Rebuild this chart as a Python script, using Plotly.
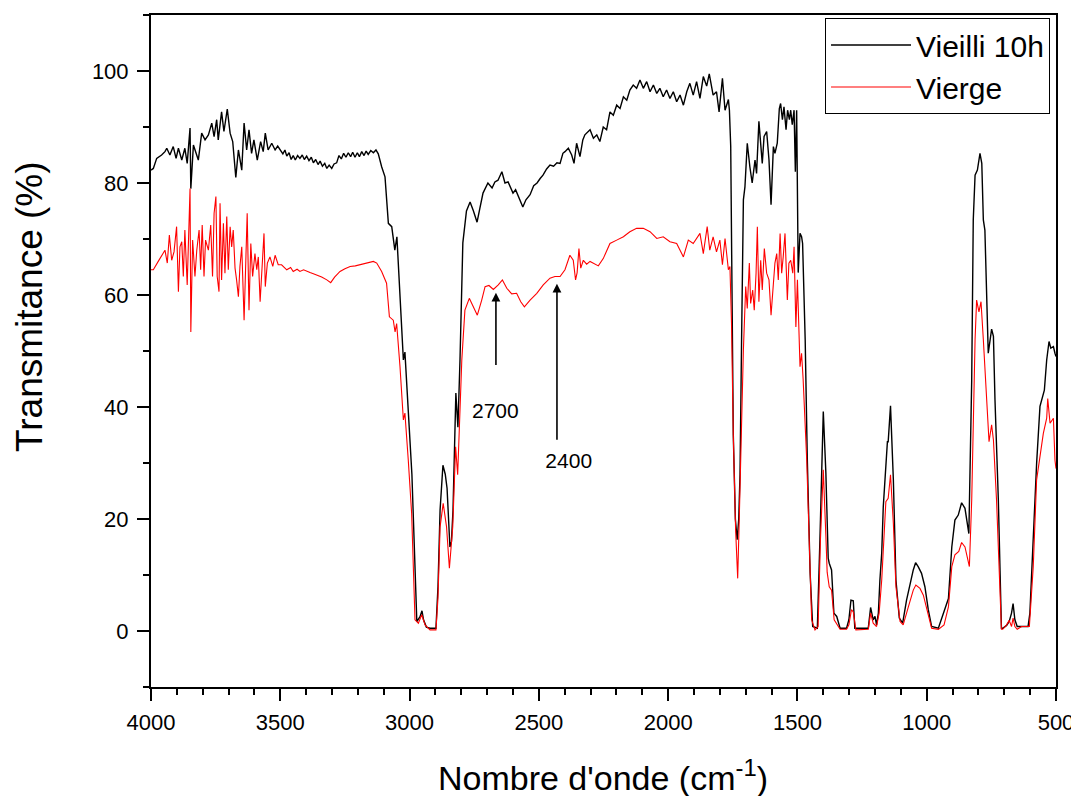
import plotly.graph_objects as go

# ---- Data: wavenumber (cm-1) and transmittance (%) ----
vieilli_w = [4000, 3991, 3978, 3959, 3946, 3939, 3927, 3914, 3903, 3894, 3881, 3869, 3860, 3849, 3846, 3836,
             3817, 3804, 3791, 3778, 3765, 3756, 3746, 3740, 3727, 3718, 3705, 3694, 3684, 3672, 3662, 3649,
             3640, 3630, 3621, 3611, 3602, 3589, 3576, 3566, 3558, 3547, 3533, 3520, 3510, 3501, 3490, 3482,
             3475, 3466, 3458, 3450, 3442, 3433, 3424, 3415, 3407, 3398, 3389, 3380, 3372, 3363, 3354, 3346,
             3337, 3328, 3320, 3311, 3301, 3292, 3282, 3273, 3264, 3255, 3246, 3237, 3228, 3220, 3211, 3202,
             3194, 3185, 3176, 3168, 3160, 3150, 3140, 3130, 3121, 3108, 3095, 3082, 3069, 3057, 3049, 3024,
             3018, 2991, 2972, 2960, 2952, 2946, 2935, 2921, 2898, 2890, 2882, 2871, 2862, 2855, 2844, 2838,
             2832, 2821, 2813, 2805, 2794, 2780, 2766, 2753, 2739, 2728, 2716, 2697, 2681, 2670, 2658, 2643,
             2631, 2619, 2609, 2600, 2590, 2581, 2570, 2562, 2550, 2534, 2520, 2507, 2495, 2484, 2470, 2457,
             2443, 2430, 2418, 2407, 2399, 2386, 2373, 2364, 2354, 2341, 2330, 2322, 2302, 2289, 2276, 2264,
             2251, 2238, 2225, 2212, 2199, 2186, 2173, 2160, 2148, 2135, 2122, 2109, 2096, 2083, 2070, 2057,
             2044, 2032, 2019, 2006, 1993, 1980, 1967, 1954, 1941, 1928, 1916, 1903, 1890, 1877, 1864, 1851,
             1841, 1826, 1813, 1803, 1790, 1780, 1767, 1763, 1758, 1754, 1748, 1740, 1733, 1727, 1722, 1716,
             1709, 1703, 1694, 1684, 1675, 1664, 1658, 1649, 1642, 1636, 1629, 1619, 1610, 1602, 1593, 1587,
             1578, 1570, 1565, 1558, 1552, 1544, 1538, 1531, 1526, 1520, 1513, 1508, 1503, 1497, 1490, 1484,
             1480, 1470, 1462, 1451, 1441, 1423, 1413, 1400, 1390, 1381, 1377, 1368, 1359, 1348, 1335, 1310,
             1301, 1293, 1284, 1278, 1226, 1217, 1207, 1200, 1194, 1187, 1181, 1174, 1168, 1158, 1152, 1149,
             1140, 1129, 1119, 1106, 1093, 1078, 1065, 1052, 1043, 1033, 1020, 1007, 994, 981, 955, 936,
             916, 903, 891, 878, 865, 852, 837, 826, 820, 813, 804, 794, 787, 781, 775, 762,
             749, 742, 736, 723, 711, 706, 691, 681, 672, 666, 659, 650, 608, 601, 588, 575,
             562, 555, 545, 536, 527, 520, 510, 504, 500]
vieilli_t = [82.3, 82.6, 84.4, 85.0, 85.6, 86.2, 85.0, 86.5, 84.4, 86.2, 84.1, 86.2, 83.5, 89.8, 79.0, 86.8,
             84.1, 88.9, 87.7, 88.6, 90.7, 88.3, 91.3, 87.7, 92.7, 89.2, 93.2, 88.9, 87.4, 81.0, 85.9, 82.3,
             90.7, 85.9, 89.5, 85.3, 87.7, 84.1, 87.4, 85.6, 88.9, 85.9, 87.1, 85.9, 86.6, 86.0, 85.2, 85.9,
             84.8, 85.4, 84.2, 84.9, 84.1, 84.9, 84.4, 85.0, 84.2, 84.8, 84.0, 84.6, 83.6, 84.2, 83.3, 83.9,
             83.0, 83.5, 82.6, 83.2, 82.6, 83.4, 83.6, 84.9, 84.3, 85.3, 84.6, 85.4, 84.7, 85.5, 84.6, 85.4,
             84.7, 85.6, 84.9, 85.7, 85.1, 85.8, 85.4, 85.9, 85.2, 82.9, 81.1, 72.8, 72.2, 68.0, 70.4, 48.4,
             49.8, 28.0, 1.7, 2.5, 3.6, 2.0, 0.7, 0.5, 0.5, 8.0, 21.6, 29.6, 28.0, 25.5, 15.0, 16.0,
             21.6, 42.5, 36.4, 48.4, 69.3, 75.0, 76.6, 75.0, 73.0, 75.5, 78.2, 80.0, 79.1, 80.2, 80.5, 82.0,
             80.0, 80.2, 79.0, 78.2, 78.8, 77.9, 76.5, 75.7, 77.0, 77.9, 79.5, 80.0, 80.8, 81.4, 82.5, 83.2,
             83.0, 83.6, 83.5, 85.3, 85.6, 86.2, 85.0, 83.5, 87.1, 84.7, 87.7, 88.6, 89.5, 88.0, 88.6, 87.4,
             90.0, 89.5, 92.7, 92.1, 93.9, 93.3, 95.4, 94.8, 96.6, 97.5, 96.9, 98.4, 96.9, 98.1, 96.3, 97.5,
             96.0, 96.9, 95.4, 96.6, 95.1, 96.3, 94.5, 95.7, 93.9, 96.3, 97.8, 95.7, 98.1, 95.1, 99.0, 97.3,
             99.5, 95.7, 96.3, 92.7, 98.7, 93.0, 94.9, 93.0, 86.5, 59.1, 35.0, 20.0, 16.3, 20.0, 28.0, 52.0,
             77.0, 79.3, 87.1, 82.9, 80.0, 84.1, 81.7, 91.0, 87.1, 83.5, 88.3, 89.2, 84.1, 76.1, 86.5, 85.3,
             87.1, 93.3, 94.2, 91.3, 93.6, 89.5, 93.0, 91.3, 93.0, 90.4, 93.0, 82.0, 93.0, 64.0, 71.0, 70.4,
             69.2, 52.0, 31.1, 10.4, 0.8, 0.5, 16.3, 39.2, 28.2, 13.0, 12.1, 10.9, 3.2, 2.6, 0.5, 0.5,
             2.0, 5.5, 5.4, 0.5, 0.5, 4.2, 2.0, 2.6, 1.1, 3.2, 9.1, 13.9, 22.2, 29.9, 33.8, 33.8,
             40.2, 27.0, 9.1, 2.3, 1.4, 5.5, 8.5, 10.9, 12.2, 11.5, 10.3, 7.9, 3.8, 0.8, 0.5, 3.2,
             5.8, 15.0, 19.8, 20.7, 22.9, 21.9, 17.4, 44.8, 73.4, 81.4, 82.3, 85.3, 83.5, 73.4, 71.6, 49.6,
             53.9, 52.6, 41.3, 23.4, 0.5, 0.5, 1.0, 1.7, 3.2, 4.9, 2.0, 0.8, 0.8, 3.2, 18.0, 29.9,
             40.1, 41.5, 43.0, 48.4, 51.7, 50.5, 50.8, 49.6, 49.0]

vierge_w = [4000, 3991, 3972, 3959, 3946, 3937, 3929, 3920, 3911, 3901, 3894, 3888, 3881, 3875, 3869, 3860,
            3849, 3846, 3839, 3830, 3823, 3814, 3808, 3802, 3795, 3789, 3778, 3769, 3762, 3756, 3749, 3744,
            3737, 3733, 3727, 3720, 3714, 3707, 3701, 3694, 3688, 3682, 3675, 3669, 3662, 3656, 3649, 3640,
            3633, 3628, 3621, 3614, 3607, 3598, 3591, 3585, 3578, 3570, 3563, 3558, 3550, 3540, 3529, 3520,
            3508, 3495, 3475, 3460, 3450, 3435, 3424, 3410, 3398, 3385, 3372, 3355, 3340, 3320, 3305, 3290,
            3269, 3250, 3230, 3210, 3192, 3170, 3153, 3140, 3127, 3108, 3089, 3078, 3063, 3056, 3050, 3037,
            3024, 3018, 3005, 2992, 2979, 2966, 2953, 2940, 2921, 2898, 2890, 2882, 2870, 2857, 2846, 2833,
            2822, 2814, 2798, 2786, 2769, 2753, 2738, 2721, 2708, 2693, 2676, 2657, 2641, 2624, 2605, 2586,
            2570, 2556, 2534, 2508, 2483, 2457, 2438, 2418, 2399, 2380, 2367, 2358, 2352, 2345, 2338, 2328,
            2315, 2302, 2270, 2251, 2225, 2199, 2173, 2148, 2122, 2096, 2070, 2044, 2019, 1993, 1967, 1941,
            1922, 1903, 1877, 1864, 1849, 1839, 1826, 1813, 1800, 1790, 1780, 1767, 1761, 1755, 1748, 1739,
            1731, 1725, 1716, 1709, 1700, 1694, 1686, 1681, 1673, 1667, 1660, 1655, 1649, 1642, 1636, 1628,
            1619, 1610, 1602, 1593, 1587, 1580, 1574, 1567, 1561, 1555, 1548, 1539, 1533, 1526, 1518, 1513,
            1506, 1500, 1494, 1490, 1484, 1478, 1464, 1445, 1432, 1420, 1411, 1400, 1390, 1385, 1377, 1368,
            1358, 1346, 1335, 1310, 1301, 1291, 1284, 1274, 1226, 1217, 1207, 1194, 1184, 1174, 1166, 1158,
            1149, 1140, 1129, 1119, 1103, 1091, 1071, 1052, 1042, 1026, 1013, 1000, 981, 955, 933, 916,
            903, 891, 876, 865, 852, 835, 826, 813, 807, 798, 790, 781, 768, 759, 749, 742,
            730, 711, 706, 691, 681, 672, 666, 659, 650, 633, 603, 588, 575, 562, 549, 536,
            532, 523, 510, 504, 500]
vierge_t = [64.5, 64.5, 66.0, 67.1, 68.0, 65.7, 70.7, 66.2, 67.7, 72.2, 60.6, 68.6, 69.5, 63.3, 71.6, 61.8,
            79.0, 53.4, 69.8, 63.3, 68.0, 71.6, 64.5, 72.5, 63.3, 69.8, 68.0, 72.5, 63.3, 74.6, 77.6, 63.3,
            60.6, 76.4, 62.7, 72.8, 63.9, 74.0, 64.5, 72.2, 68.6, 71.6, 64.8, 62.7, 59.7, 65.1, 68.6, 55.5,
            66.8, 74.6, 57.3, 69.2, 63.3, 67.4, 64.5, 66.8, 58.8, 65.7, 71.0, 61.5, 65.7, 66.8, 65.1, 67.1,
            65.4, 65.4, 64.5, 64.9, 64.2, 64.6, 64.2, 64.5, 64.2, 64.0, 63.8, 63.5, 63.2, 62.7, 62.2, 63.2,
            64.2, 64.7, 65.1, 65.2, 65.4, 65.7, 65.9, 66.0, 65.7, 64.2, 62.1, 56.1, 55.5, 53.4, 54.9, 47.2,
            37.7, 38.9, 30.5, 21.0, 2.0, 1.4, 2.9, 1.1, 0.2, 0.2, 6.0, 18.6, 22.8, 18.6, 11.2, 18.6,
            32.9, 27.9, 48.4, 57.3, 59.4, 57.9, 56.4, 59.1, 61.5, 61.7, 61.0, 61.8, 62.7, 61.2, 60.2, 60.3,
            58.8, 57.9, 59.1, 60.3, 61.8, 63.0, 63.3, 63.3, 64.5, 67.1, 66.2, 62.7, 64.0, 68.3, 64.8, 66.2,
            65.5, 66.0, 65.2, 66.5, 69.2, 69.8, 70.4, 71.3, 71.9, 71.9, 71.3, 70.1, 70.4, 69.5, 69.2, 66.8,
            69.8, 69.2, 71.0, 67.4, 72.2, 68.0, 70.4, 67.7, 69.8, 65.4, 70.1, 64.5, 65.1, 55.0, 35.0, 18.0,
            9.4, 20.0, 38.0, 50.2, 61.5, 57.6, 65.7, 58.5, 60.9, 57.3, 63.9, 72.2, 58.8, 66.2, 60.9, 68.3,
            63.9, 62.7, 56.4, 62.7, 65.7, 67.4, 62.7, 71.0, 63.9, 66.8, 71.0, 59.1, 65.7, 66.2, 63.9, 68.6,
            54.3, 62.7, 50.8, 47.2, 49.6, 45.0, 30.5, 2.0, 0.2, 0.8, 16.3, 28.8, 17.0, 10.5, 7.9, 7.3,
            2.0, 1.1, 0.3, 0.3, 1.1, 3.8, 3.4, 0.2, 0.3, 3.2, 1.4, 0.8, 3.2, 9.1, 16.3, 23.1,
            23.7, 27.9, 19.2, 7.9, 1.7, 1.1, 4.3, 7.3, 8.2, 7.6, 6.4, 3.8, 0.5, 0.3, 1.1, 4.3,
            11.5, 13.6, 14.2, 15.8, 15.0, 11.5, 23.4, 52.0, 59.1, 57.0, 58.8, 52.0, 40.1, 33.8, 36.8, 34.1,
            23.4, 0.3, 0.3, 1.1, 1.9, 0.8, 2.3, 0.8, 0.3, 0.8, 0.8, 11.5, 27.0, 31.0, 35.3, 38.0,
            41.5, 37.1, 38.0, 30.5, 29.0]

x_ticks = [4000, 3500, 3000, 2500, 2000, 1500, 1000, 500]
y_ticks = [0, 20, 40, 60, 80, 100]
series_names = ["Vieilli 10h", "Vierge"]
marker_labels = ["2700", "2400"]
# (arrow x, arrow-head y, label-centre y) for each marked band
marker_pos = [(2666, 60.4, 39.3), (2430, 62.0, 30.4)]

FONT = "Arial, Liberation Sans, sans-serif"

fig = go.Figure()
fig.add_trace(go.Scatter(x=vieilli_w, y=vieilli_t, mode="lines", name=series_names[0],
                         line=dict(color="black", width=1.4)))
fig.add_trace(go.Scatter(x=vierge_w, y=vierge_t, mode="lines", name=series_names[1],
                         line=dict(color="#ff0000", width=1.1)))

# labelled arrows: label box centre at (ax, ay), arrow head at (x, y)
pads = [34, 9]
prefixes = ["", "&nbsp;&nbsp;&nbsp;&nbsp;"]
for (hx, hy, ly), lab, pad, pre in zip(marker_pos, marker_labels, pads, prefixes):
    fig.add_annotation(x=hx, y=hy, ax=hx, ay=ly, xref="x", yref="y", axref="x", ayref="y",
                       text=pre + lab, showarrow=True, arrowhead=2, arrowsize=1.1, arrowwidth=1.6,
                       arrowcolor="black", borderpad=pad,
                       font=dict(family=FONT, size=21, color="black"))

# axis titles
fig.add_annotation(x=-0.1337, y=0.5655, xref="paper", yref="paper", text="Transmitance (%)",
                   textangle=-90, showarrow=False, xanchor="center", yanchor="middle",
                   font=dict(family=FONT, size=37, color="black"))
fig.add_annotation(x=0.4994, y=-0.131, xref="paper", yref="paper",
                   text="Nombre d'onde (cm<sup>-1</sup>)",
                   showarrow=False, xanchor="center", yanchor="middle",
                   font=dict(family=FONT, size=34, color="black"))

# the page shows the figure offset by 8 px (body margin), so size/margins compensate
fig.update_layout(
    width=1071, height=788,
    margin=dict(l=143, r=23, t=7, b=109, autoexpand=False),
    plot_bgcolor="white", paper_bgcolor="white",
    font=dict(family=FONT, color="black"),
    showlegend=True,
    legend=dict(x=0.9934, y=0.9955, xanchor="right", yanchor="top",
                bordercolor="black", borderwidth=1, bgcolor="white",
                font=dict(family=FONT, size=30), itemwidth=80,
                tracegroupgap=0),
)
fig.update_xaxes(
    range=[4000, 500], tickvals=x_ticks, ticktext=[str(v) for v in x_ticks],
    ticks="outside", ticklen=12, tickwidth=1.5, tickcolor="black",
    minor=dict(dtick=100, tick0=0, ticks="outside", ticklen=6, tickwidth=1.5, tickcolor="black"),
    showline=True, linewidth=2, linecolor="black", mirror=True,
    showgrid=False, zeroline=False, automargin=False, ticklabelstandoff=3,
    tickfont=dict(family=FONT, size=22),
)
fig.update_yaxes(
    range=[-10, 110], tickvals=y_ticks, ticktext=[str(v) for v in y_ticks],
    ticks="outside", ticklen=12, tickwidth=1.5, tickcolor="black",
    minor=dict(dtick=10, tick0=0, ticks="outside", ticklen=6, tickwidth=1.5, tickcolor="black"),
    showline=True, linewidth=2, linecolor="black", mirror=True,
    showgrid=False, zeroline=False, automargin=False, ticklabelstandoff=4,
    tickfont=dict(family=FONT, size=22),
)

fig.write_html("out.html")
